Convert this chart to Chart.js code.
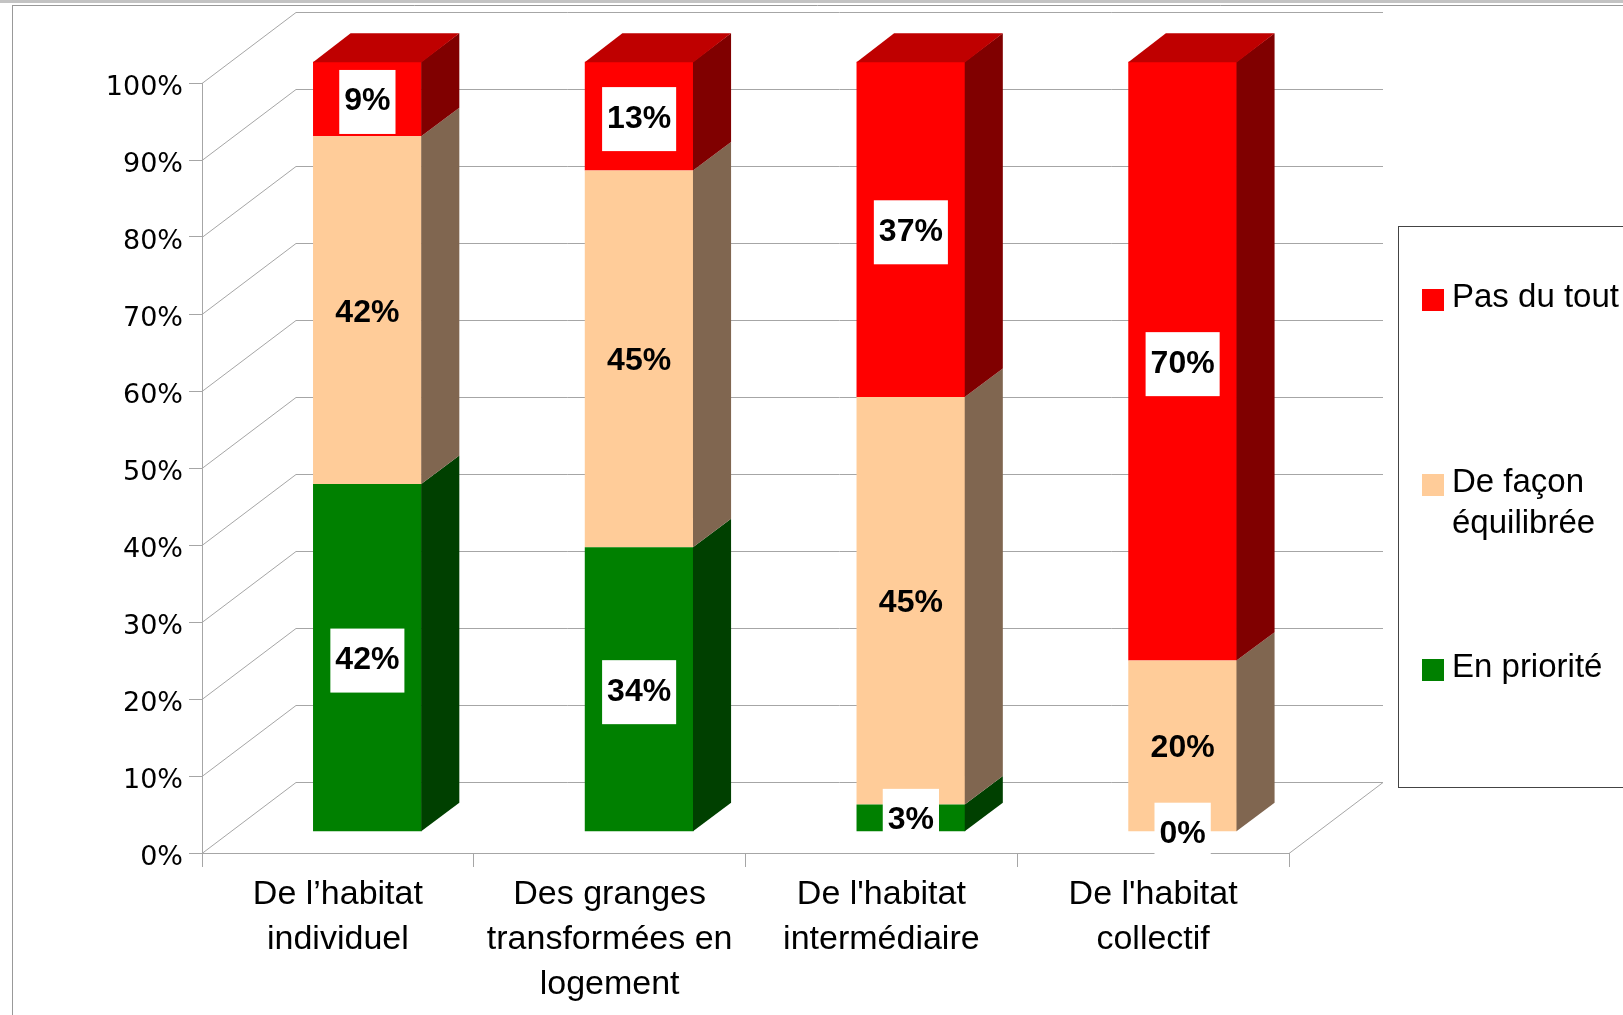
<!DOCTYPE html>
<html>
<head>
<meta charset="utf-8">
<script src="https://cdn.jsdelivr.net/npm/chart.js@4.4.1/dist/chart.umd.min.js"></script>
<style>
    html, body { margin: 0; padding: 0; background: #fff; }
    canvas { display: block; }
</style>
</head>
<body>
<canvas id="chart" width="1623" height="1015"></canvas>
<script>
// Data
const categories = [
    ['De l’habitat', 'individuel'],
    ['Des granges', 'transformées en', 'logement'],
    ["De l'habitat", 'intermédiaire'],
    ["De l'habitat", 'collectif']
];
const seriesNames = ['En priorité', 'De façon équilibrée', 'Pas du tout'];
const enPriorite = [42, 34, 3, 0];
const equilibree = [42, 45, 45, 20];
const pasDuTout = [9, 13, 37, 70];
const rawSeries = [enPriorite, equilibree, pasDuTout];

// Styles (front face / top face / side face)
const faceColors = ['#008000', '#ffcc99', '#ff0000'];
const topColors = ['#006000', '#bf9973', '#bf0000'];
const sideColors = ['#004000', '#806650', '#800000'];
const labelBoxed = [true, false, true];
const LINE = '#a6a6a6';

// 3D geometry: floor depth and bar placement within it
const FLOOR_DX = 94, FLOOR_DY = 71;
const BAR_SHIFT = 0.3, BAR_DEPTH = 0.4;

// 100% stacked: each column is scaled to its own total
const totals = categories.map((c, i) => rawSeries.reduce((s, arr) => s + arr[i], 0));
const toShare = arr => arr.map((v, i) => v / totals[i] * 100);

function poly(ctx, pts) {
    ctx.beginPath();
    ctx.moveTo(pts[0][0], pts[0][1]);
    for (let k = 1; k < pts.length; k++) ctx.lineTo(pts[k][0], pts[k][1]);
    ctx.closePath();
    ctx.fill();
}

const box3d = {
    id: 'box3d',
    beforeDraw(chart) {
        const ctx = chart.ctx;
        ctx.save();
        ctx.fillStyle = '#fff';
        ctx.fillRect(0, 0, chart.width, chart.height);
        ctx.fillStyle = '#c3c3c3';
        ctx.fillRect(0, 0, chart.width, 3);
        ctx.strokeStyle = '#999';
        ctx.lineWidth = 1;
        ctx.beginPath();
        ctx.moveTo(12, 5.5); ctx.lineTo(chart.width, 5.5);
        ctx.moveTo(12.5, 5); ctx.lineTo(12.5, chart.height);
        ctx.stroke();
        ctx.restore();
    },
    beforeDatasetsDraw(chart) {
        const { ctx, chartArea: a, scales: { y } } = chart;
        // left wall diagonals + back wall grid
        ctx.save();
        ctx.strokeStyle = LINE;
        ctx.lineWidth = 1;
        ctx.beginPath();
        y.ticks.forEach(t => {
            const py = Math.round(y.getPixelForValue(t.value)) + 0.5;
            ctx.moveTo(a.left, py);
            ctx.lineTo(a.left + FLOOR_DX, py - FLOOR_DY);
            ctx.lineTo(a.right + FLOOR_DX, py - FLOOR_DY);
        });
        const by = Math.round(a.bottom) + 0.5;
        ctx.moveTo(a.right, by);
        ctx.lineTo(a.right + FLOOR_DX, by - FLOOR_DY);
        ctx.stroke();
        ctx.restore();

        // bars sit in the middle of the floor depth
        ctx.save();
        ctx.translate(BAR_SHIFT * FLOOR_DX + 1.3, -BAR_SHIFT * FLOOR_DY);
    },
    afterDatasetsDraw(chart) {
        const ctx = chart.ctx;
        const bx = BAR_DEPTH * FLOOR_DX, bd = BAR_DEPTH * FLOOR_DY;

        // topmost non-empty segment of each column gets the top face
        const topIdx = categories.map((c, i) => {
            let t = 0;
            rawSeries.forEach((arr, di) => { if (arr[i] > 0) t = di; });
            return t;
        });

        chart.data.datasets.forEach((ds, di) => {
            const meta = chart.getDatasetMeta(di);
            meta.data.forEach((bar, i) => {
                const { x, y, base, width } = bar.getProps(['x', 'y', 'base', 'width'], true);
                const top = Math.min(y, base), bottom = Math.max(y, base);
                const left = x - width / 2, right = x + width / 2;
                if (bottom - top > 0.5) {
                    ctx.fillStyle = sideColors[di];
                    poly(ctx, [[right - 0.5, top], [right + bx, top - bd], [right + bx, bottom - bd], [right - 0.5, bottom]]);
                }
                if (topIdx[i] === di) {
                    ctx.fillStyle = topColors[di];
                    poly(ctx, [[left, top + 0.5], [right, top + 0.5], [right + bx, top - bd], [left + bx, top - bd]]);
                }
            });
        });

        // value labels
        ctx.font = 'bold 32px "Liberation Sans", Arial, sans-serif';
        ctx.textAlign = 'center';
        ctx.textBaseline = 'alphabetic';
        chart.data.datasets.forEach((ds, di) => {
            const meta = chart.getDatasetMeta(di);
            meta.data.forEach((bar, i) => {
                const { x, y, base } = bar.getProps(['x', 'y', 'base'], true);
                const cy = (y + base) / 2;
                const txt = rawSeries[di][i] + '%';
                const w = ctx.measureText(txt).width;
                if (labelBoxed[di]) {
                    ctx.fillStyle = '#fff';
                    ctx.fillRect(x - w / 2 - 5, cy - 29, w + 10, 64);
                }
                ctx.fillStyle = '#000';
                ctx.fillText(txt, x, cy + 11.5);
            });
        });
        ctx.restore();
    },
    afterDraw(chart) {
        const ctx = chart.ctx;
        ctx.save();
        ctx.strokeStyle = '#444';
        ctx.lineWidth = 1;
        ctx.strokeRect(1398.5, 226.5, 400, 561);

        ctx.font = '33px "Liberation Sans", Arial, sans-serif';
        ctx.textAlign = 'left';
        ctx.textBaseline = 'alphabetic';
        const order = chart.data.datasets.map((d, i) => i).reverse();
        order.forEach((di, k) => {
            const base = 307 + 185 * k;
            ctx.fillStyle = faceColors[di];
            ctx.fillRect(1422, base - 18, 22, 22);
            // simple word wrap
            const words = chart.data.datasets[di].label.split(' ');
            const lines = [];
            let cur = '';
            words.forEach(wd => {
                const test = cur ? cur + ' ' + wd : wd;
                if (cur && ctx.measureText(test).width > 200) { lines.push(cur); cur = wd; }
                else cur = test;
            });
            lines.push(cur);
            ctx.fillStyle = '#000';
            lines.forEach((ln, j) => ctx.fillText(ln, 1452, base + 41 * j));
        });
        ctx.restore();
    }
};

const ctx = document.getElementById('chart').getContext('2d');

new Chart(ctx, {
    type: 'bar',
    data: {
        labels: categories,
        datasets: rawSeries.map((arr, di) => ({
            label: seriesNames[di],
            data: toShare(arr),
            backgroundColor: faceColors[di],
            borderWidth: 0,
            barPercentage: 0.4,
            categoryPercentage: 1,
            clip: false
        }))
    },
    options: {
        responsive: false,
        animation: false,
        layout: { padding: { top: 83, right: 334, bottom: 0, left: 0 } },
        plugins: {
            legend: { display: false },
            tooltip: { enabled: false }
        },
        scales: {
            x: {
                stacked: true,
                grid: { offset: true, drawOnChartArea: false, tickLength: 14, color: LINE },
                border: { color: LINE },
                ticks: {
                    color: '#000',
                    font: { family: '"Liberation Sans", Arial, sans-serif', size: 34, lineHeight: 1.33 },
                    padding: 5,
                    maxRotation: 0,
                    autoSkip: false
                },
                afterFit: s => { s.height = 162; }
            },
            y: {
                stacked: true,
                min: 0,
                max: 100,
                grid: { drawOnChartArea: false, tickLength: 13, color: LINE },
                border: { color: LINE },
                ticks: {
                    stepSize: 10,
                    color: '#000',
                    font: { family: '"DejaVu Sans", sans-serif', size: 27 },
                    padding: 6,
                    labelOffset: 5,
                    callback: v => v + '%'
                },
                afterFit: s => { s.width = 202; }
            }
        }
    },
    plugins: [box3d]
});
</script>
</body>
</html>
